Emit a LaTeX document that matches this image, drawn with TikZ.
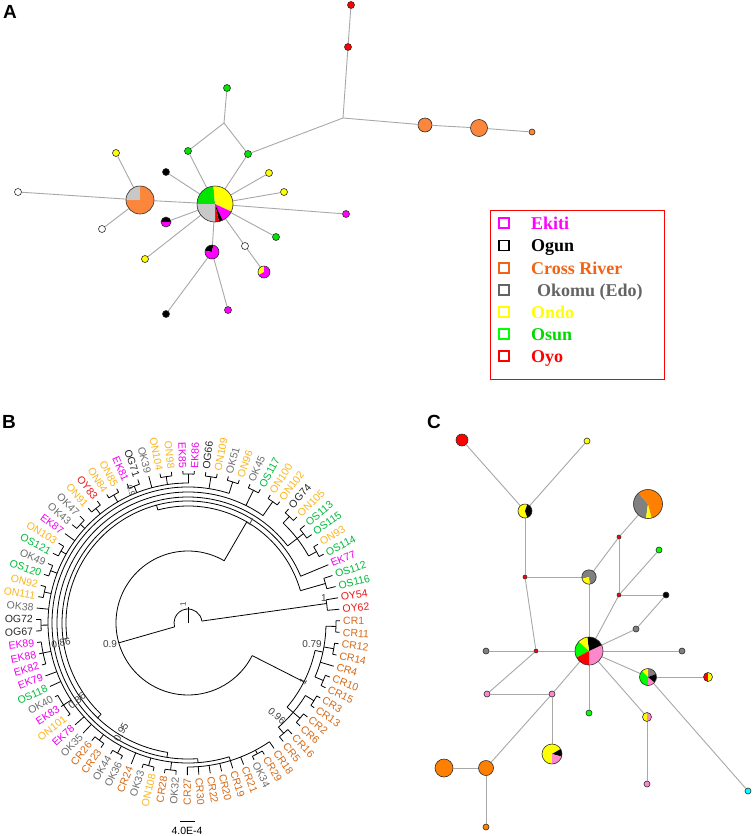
\documentclass[tikz,border=0pt]{standalone}
\usepackage{fontspec}
\setmainfont{Liberation Serif}
\newfontfamily\arialf{Liberation Sans}
\definecolor{eki}{RGB}{255,0,255}
\definecolor{oyoR}{RGB}{255,0,0}
\definecolor{orA}{RGB}{250,135,60}
\definecolor{grA}{RGB}{200,200,200}
\definecolor{grnA}{RGB}{0,230,0}
\definecolor{yel}{RGB}{255,255,0}
\definecolor{orC}{RGB}{255,128,0}
\definecolor{grC}{RGB}{128,128,128}
\definecolor{pkC}{RGB}{255,136,204}
\definecolor{grnC}{RGB}{0,255,0}
\definecolor{cyC}{RGB}{0,255,255}
\definecolor{edgec}{RGB}{168,168,168}
\definecolor{bd}{RGB}{45,45,45}
\definecolor{tON}{RGB}{250,182,30}
\definecolor{tOK}{RGB}{110,110,110}
\definecolor{tOG}{RGB}{40,40,40}
\definecolor{tEK}{RGB}{240,0,240}
\definecolor{tOS}{RGB}{0,185,60}
\definecolor{tOY}{RGB}{240,20,20}
\definecolor{tCR}{RGB}{215,105,20}
\definecolor{legCR}{RGB}{240,100,20}
\definecolor{legOK}{RGB}{100,100,100}
\tikzset{
 hap/.style={circle, inner sep=0pt, minimum size=#1, draw=bd, line width=0.6pt},
 hapc/.style={circle, inner sep=0pt, minimum size=#1},
 link/.style={draw=edgec, line width=0.9pt},
 tree/.style={line width=0.8pt, black},
 plabel/.style={font=\arialf\bfseries\fontsize{19}{22}\selectfont, inner sep=0pt},
 tlab/.style={font=\arialf\fontsize{10.5}{12}\selectfont, inner sep=0pt},
 boot/.style={font=\arialf\fontsize{10}{12}\selectfont, text=black!75, inner sep=0pt},
 legtext/.style={font=\bfseries\fontsize{18}{21}\selectfont, anchor=base west, inner sep=0pt},
 legsq/.style={draw, line width=1.3pt, minimum size=10pt, inner sep=0pt},
}
\newcommand\pwedge[5]{\fill[#5] (#1.center) -- ++(#3:#2) arc[start angle=#3, end angle=#4, radius=#2] -- cycle;}
\newcommand\pbord[2]{\draw[bd, line width=0.6pt] (#1.center) circle[radius=#2];}
\newcommand\trad[3]{\pgfmathsetmacro\tA{5.2+(#1-1)*4.337}\draw[tree] (\tA:#2pt) -- (\tA:#3pt);}
\newcommand\tarc[3]{\pgfmathsetmacro\tA{5.2+(#1-1)*4.337}\pgfmathsetmacro\tB{5.2+(#2-1)*4.337}\draw[tree] (\tA:#3pt) arc[start angle=\tA, end angle=\tB, radius=#3pt];}
\newcommand\tcl[5]{\trad{#5}{#4}{#3}\tarc{#1}{#2}{#3}\foreach \kk in {#1,...,#2}{\trad{\kk}{#3}{152}}}
\newcommand\ttip[2]{\trad{#1}{#2}{152}}
\begin{document}
\begin{tikzpicture}[x=1pt,y=-1pt]
\useasboundingbox (0,0) rectangle (754,836);
\fill[white] (0,0) rectangle (754,836);

%================ Panel A =================
\node[plabel] (pA) at (10,12) {A};
\node[hap=7pt, fill=oyoR] (a_r1) at (351,5) {};
\node[hap=7pt, fill=oyoR] (a_r2) at (348,47) {};
\coordinate (a_j1) at (343,118);
\node[hap=14pt, fill=orA] (a_o1) at (425,125) {};
\node[hap=17pt, fill=orA] (a_o2) at (479,128) {};
\node[hap=6pt, fill=orA] (a_o3) at (532,132) {};
\node[hap=7pt, fill=grnA] (a_gt) at (227,88) {};
\coordinate (a_j2) at (224,123);
\node[hap=7pt, fill=grnA] (a_g1) at (188,151) {};
\node[hap=7pt, fill=grnA] (a_g2) at (248,154) {};
\node[hapc=36pt] (a_c) at (215,204) {};
\node[hapc=28pt] (a_og) at (140,200) {};
\node[hap=7pt, fill=yel] (a_y1) at (116,153) {};
\node[hap=7pt, fill=white] (a_w1) at (18,192) {};
\node[hap=7pt, fill=white] (a_w2) at (102,229) {};
\node[hap=7pt, fill=black] (a_b1) at (166,172) {};
\node[hapc=10pt] (a_bp) at (166,222) {};
\node[hap=7pt, fill=yel] (a_y2) at (145,259) {};
\node[hapc=14pt] (a_pb) at (212,252) {};
\node[hap=7pt, fill=black] (a_b2) at (166,314) {};
\node[hap=7pt, fill=eki] (a_p1) at (228,310) {};
\node[hap=7pt, fill=white] (a_w3) at (245,246) {};
\node[hapc=12pt] (a_yp) at (264,272) {};
\node[hap=7pt, fill=grnA] (a_g3) at (276,237) {};
\node[hap=7pt, fill=eki] (a_p2) at (346,214) {};
\node[hap=7pt, fill=yel] (a_y3) at (284,192) {};
\node[hap=7pt, fill=yel] (a_y4) at (269,173) {};

\draw[link] (a_r1) -- (a_r2);
\draw[link] (a_r2) -- (a_j1);
\draw[link] (a_j1) -- (a_o1);
\draw[link] (a_o1) -- (a_o2);
\draw[link] (a_o2) -- (a_o3);
\draw[link] (a_j1) -- (a_g2);
\draw[link] (a_gt) -- (a_j2);
\draw[link] (a_j2) -- (a_g1);
\draw[link] (a_j2) -- (a_g2);
\draw[link] (a_g1) -- (a_c);
\draw[link] (a_g2) -- (a_c);
\draw[link] (a_y1) -- (a_og);
\draw[link] (a_w1) -- (a_og);
\draw[link] (a_w2) -- (a_og);
\draw[link] (a_og) -- (a_c);
\draw[link] (a_b1) -- (a_c);
\draw[link] (a_bp) -- (a_c);
\draw[link] (a_y2) -- (a_c);
\draw[link] (a_pb) -- (a_c);
\draw[link] (a_pb) -- (a_b2);
\draw[link] (a_pb) -- (a_p1);
\draw[link] (a_c) -- (a_w3);
\draw[link] (a_w3) -- (a_yp);
\draw[link] (a_c) -- (a_g3);
\draw[link] (a_c) -- (a_p2);
\draw[link] (a_c) -- (a_y3);
\draw[link] (a_c) -- (a_y4);

\pwedge{a_c}{18pt}{95}{180}{grnA}
\pwedge{a_c}{18pt}{-25}{95}{yel}
\pwedge{a_c}{18pt}{-65}{-25}{eki}
\pwedge{a_c}{18pt}{-77}{-65}{black}
\pwedge{a_c}{18pt}{-90}{-77}{oyoR}
\pwedge{a_c}{18pt}{180}{270}{grA}
\pbord{a_c}{18pt}
\pwedge{a_og}{14pt}{90}{180}{grA}
\pwedge{a_og}{14pt}{180}{450}{orA}
\pbord{a_og}{14pt}
\pwedge{a_bp}{5pt}{0}{180}{black}
\pwedge{a_bp}{5pt}{180}{360}{eki}
\pbord{a_bp}{5pt}
\pwedge{a_pb}{7pt}{80}{170}{black}
\pwedge{a_pb}{7pt}{170}{440}{eki}
\pbord{a_pb}{7pt}
\pwedge{a_yp}{6pt}{90}{210}{yel}
\pwedge{a_yp}{6pt}{210}{450}{eki}
\pbord{a_yp}{6pt}

%================ Legend =================
\node[draw=red, line width=1pt, minimum width=174pt, minimum height=169pt, inner sep=0pt, anchor=north west] (leg) at (490,210) {};
\node[legsq, draw=eki] (s1) at (504,223) {};
\node[legsq, draw=black] (s2) at (504,245.5) {};
\node[legsq, draw=legCR] (s3) at (504,268) {};
\node[legsq, draw=legOK] (s4) at (504,290) {};
\node[legsq, draw=yel] (s5) at (504,312) {};
\node[legsq, draw=grnC] (s6) at (504,334) {};
\node[legsq, draw=red] (s7) at (504,356) {};
\node[legtext, text=eki] (l1) at (531,229) {Ekiti};
\node[legtext, text=black] (l2) at (531,251.5) {Ogun};
\node[legtext, text=legCR] (l3) at (531,274) {Cross River};
\node[legtext, text=legOK] (l4) at (537,296) {Okomu (Edo)};
\node[legtext, text=yel] (l5) at (531,318) {Ondo};
\node[legtext, text=grnC!85!black] (l6) at (531,340) {Osun};
\node[legtext, text=red] (l7) at (531,362) {Oyo};

%================ Panel B =================
\node[plabel] (pB) at (9,422) {B};
\begin{scope}[shift={(188,623)}]
\draw[tree] (0pt,0pt) -- (90:16pt);
\draw[tree] (8:14pt) arc[start angle=8, end angle=196, radius=14pt];
\draw[tree] (8:14pt) -- (8:140pt);
\tarc{1}{2}{140}
\ttip{1}{140}
\ttip{2}{140}
\draw[tree] (196:14pt) -- (196:72pt);
\tarc{13.6}{76.6}{72}
% upper clade
\trad{13.6}{72}{117}
\tarc{3.5}{24}{117}
\tcl{3}{4}{143}{117}{3.5}
\trad{24}{117}{122}
\tarc{5}{43}{122}
\ttip{5}{122}
\trad{43}{122}{126}
\tarc{8.5}{52}{126}
\trad{8.5}{126}{138}
\tarc{6.5}{10.5}{138}
\tcl{6}{7}{147}{138}{6.5}
\tcl{8}{9}{146}{138}{8.5}
\tcl{10}{11}{147}{138}{10.5}
\trad{52}{126}{131}
\tarc{12.5}{60}{131}
\tcl{12}{13}{148}{131}{12.5}
\tcl{14}{15}{148}{131}{14.5}
\trad{60}{131}{136}
\tarc{16.5}{63}{136}
\tcl{16}{17}{148}{136}{16.5}
\tcl{18}{19}{148}{136}{18.5}
\trad{63}{136}{140}
\tarc{20.5}{66}{140}
\tcl{20}{21}{149}{140}{20.5}
\tcl{22}{23}{148}{140}{22.5}
\ttip{24}{140}
\tcl{25}{26}{147}{140}{25.5}
\tcl{27}{28}{148}{140}{27.5}
\tcl{29}{30}{147}{140}{29.5}
\tcl{31}{32}{146}{140}{31.5}
\ttip{33}{140}
\tcl{34}{35}{146}{140}{34.5}
\tcl{36}{37}{147}{140}{36.5}
\tcl{38}{39}{147}{140}{38.5}
\ttip{40}{140}
\tcl{41}{42}{147}{140}{41.5}
\tcl{43}{45}{148}{140}{44}
\ttip{46}{140}
\ttip{47}{140}
\tcl{48}{50}{149}{140}{49}
\ttip{51}{140}
\ttip{52}{140}
\tcl{53}{54}{147}{140}{53.5}
\tcl{55}{56}{148}{140}{55.5}
\ttip{57}{140}
\tcl{58}{59}{148}{140}{58.5}
\tcl{60}{61}{148}{140}{60.5}
\trad{66}{140}{144}
\tarc{62}{70}{144}
\foreach \kk in {62,...,67}{\ttip{\kk}{144}}
\tcl{68}{69}{148}{144}{68.5}
\ttip{70}{144}
% CR clade
\trad{76.6}{72}{130}
\tarc{73.5}{80}{130}
\trad{73.5}{130}{138}
\tarc{71.5}{75.5}{138}
\tcl{71}{72}{146}{138}{71.5}
\tcl{73}{74}{147}{138}{73.5}
\tcl{75}{76}{148}{138}{75.5}
\trad{80}{130}{138}
\tarc{77.5}{82.5}{138}
\tcl{77}{78}{147}{138}{77.5}
\ttip{79}{138}
\tcl{80}{81}{148}{138}{80.5}
\tcl{82}{83}{148}{138}{82.5}
% tip labels
\foreach \nm/\cl [count=\i] in {OY62/tOY, OY54/tOY, OS116/tOS, OS112/tOS, EK77/tEK, OS114/tOS, ON93/tON, OS115/tOS, OS113/tOS, ON105/tON, OG74/tOG, ON102/tON, ON100/tON, OS117/tOS, OK45/tOK, ON96/tON, OK51/tOK, ON109/tON, OG66/tOG, EK86/tEK, EK85/tEK, ON98/tON, ON104/tON, OK39/tOK, OG71/tOG, EK81/tEK, ON85/tON, ON84/tON, OY83/tOY, ON91/tON, OK47/tOK, OK43/tOK, EK87/tEK, ON103/tON, OS121/tOS, OK49/tOK, OS120/tOS, ON92/tON, ON111/tON, OK38/tOK, OG72/tOG, OG67/tOG, EK89/tEK, EK88/tEK, EK82/tEK, EK79/tEK, OS118/tOS, OK40/tOK, EK83/tEK, ON101/tON, EK78/tEK, OK35/tOK, CR26/tCR, CR23/tCR, OK44/tOK, OK36/tOK, CR24/tCR, OK33/tOK, ON108/tON, CR28/tCR, OK32/tOK, CR27/tCR, CR30/tCR, CR22/tCR, CR20/tCR, CR19/tCR, CR21/tCR, OK34/tOK, CR29/tCR, CR18/tCR, CR5/tCR, CR16/tCR, CR6/tCR, CR2/tCR, CR13/tCR, CR3/tCR, CR15/tCR, CR10/tCR, CR4/tCR, CR14/tCR, CR12/tCR, CR11/tCR, CR1/tCR} {
  \pgfmathsetmacro\ta{5.2+(\i-1)*4.337}
  \pgfmathsetmacro\tb{\ta+180}
  \pgfmathtruncatemacro\side{cos(\ta)>=0}
  \ifnum\side=1
    \node[tlab, text=\cl, anchor=west, rotate=\ta] (t\i) at (\ta:155pt) {\nm};
  \else
    \node[tlab, text=\cl, anchor=east, rotate=\tb] (t\i) at (\ta:155pt) {\nm};
  \fi
}
\end{scope}
% support values
\node[boot, rotate=90, font=\arialf\fontsize{8}{9}\selectfont] (b1) at (183,604) {1};
\node[boot] (b2) at (110,644) {0.9};
\node[boot, rotate=-30] (b3) at (251,522) {1};
\node[boot] (b4) at (324,598) {1};
\node[boot, rotate=60] (b5) at (303,681) {1};
\node[boot] (b6) at (312,644) {0.79};
\node[boot, rotate=-40] (b7) at (277,716) {0.96};
\node[boot, rotate=60] (b8) at (121,732) {0.95};
\node[boot, rotate=10] (b9) at (61,643) {0.86};
\node[boot, rotate=40] (b10) at (77,701) {0.86};
\node[boot, rotate=-70, font=\arialf\fontsize{8}{9}\selectfont] (b11) at (131,491) {0.9};
% scale bar
\coordinate (sb1) at (180,821);
\coordinate (sb2) at (195,821);
\draw[tree] (sb1) -- (sb2);
\node[tlab] (sbt) at (187,831) {4.0E-4};

%================ Panel C =================
\node[plabel] (pC) at (434,422) {C};
\node[hap=12pt, fill=oyoR] (c_r) at (462,440) {};
\node[hap=6pt, fill=yel] (c_y) at (587,441) {};
\node[hapc=14pt] (c_yb) at (525,511) {};
\node[hapc=29pt] (c_og) at (648,504) {};
\node[hap=4pt, fill=oyoR] (c_j3) at (619,537) {};
\node[hap=6pt, fill=grnC] (c_g1) at (659,550) {};
\node[hap=4pt, fill=oyoR] (c_j1) at (525,577) {};
\node[hapc=14.5pt] (c_gy) at (589,577) {};
\node[hap=4pt, fill=oyoR] (c_j2) at (619,595) {};
\node[hap=6pt, fill=black] (c_b) at (666,595) {};
\node[hap=6pt, fill=grC] (c_k1) at (636,629) {};
\node[hap=4pt, fill=oyoR] (c_jl) at (536,651) {};
\node[hap=6pt, fill=grC] (c_k2) at (486,651) {};
\node[hapc=28pt] (c_c) at (589,651) {};
\node[hap=6pt, fill=grC] (c_k3) at (682,651) {};
\node[hapc=17pt] (c_pie) at (648,677) {};
\node[hapc=9pt] (c_ry) at (708,677) {};
\node[hap=6pt, fill=pkC] (c_p1) at (487,694) {};
\node[hap=6pt, fill=pkC] (c_p2) at (552,694) {};
\node[hap=6pt, fill=grnC] (c_g2) at (589,713) {};
\node[hapc=9pt] (c_yp) at (647,717) {};
\node[hapc=20pt] (c_yl) at (552,754) {};
\node[hap=18pt, fill=orC] (c_o1) at (444,768) {};
\node[hap=15pt, fill=orC] (c_o2) at (486,768) {};
\node[hap=6pt, fill=pkC] (c_p3) at (647,784) {};
\node[hap=6pt, fill=cyC] (c_cy) at (748,791) {};
\node[hap=6pt, fill=orC] (c_o3) at (486,827) {};

\draw[link] (c_r) -- (c_yb);
\draw[link] (c_y) -- (c_yb);
\draw[link] (c_yb) -- (c_j1);
\draw[link] (c_j1) -- (c_gy);
\draw[link] (c_j1) -- (c_jl);
\draw[link] (c_gy) -- (c_j3);
\draw[link] (c_j3) -- (c_og);
\draw[link] (c_gy) -- (c_c);
\draw[link] (c_j3) -- (c_j2);
\draw[link] (c_j2) -- (c_g1);
\draw[link] (c_j2) -- (c_b);
\draw[link] (c_j2) -- (c_c);
\draw[link] (c_b) -- (c_k1);
\draw[link] (c_k1) -- (c_c);
\draw[link] (c_jl) -- (c_k2);
\draw[link] (c_jl) -- (c_c);
\draw[link] (c_c) -- (c_k3);
\draw[link] (c_jl) -- (c_p1);
\draw[link] (c_p1) -- (c_p2);
\draw[link] (c_p2) -- (c_c);
\draw[link] (c_p2) -- (c_yl);
\draw[link] (c_p2) -- (c_o2);
\draw[link] (c_o2) -- (c_o1);
\draw[link] (c_o2) -- (c_o3);
\draw[link] (c_c) -- (c_g2);
\draw[link] (c_c) -- (c_pie);
\draw[link] (c_pie) -- (c_ry);
\draw[link] (c_pie) -- (c_cy);
\draw[link] (c_c) -- (c_yp);
\draw[link] (c_yp) -- (c_p3);

\pwedge{c_yb}{7pt}{70}{290}{yel}
\pwedge{c_yb}{7pt}{-70}{70}{black}
\pbord{c_yb}{7pt}
\pwedge{c_og}{14.5pt}{130}{262}{grC}
\pwedge{c_og}{14.5pt}{262}{285}{yel}
\pwedge{c_og}{14.5pt}{-75}{130}{orC}
\pbord{c_og}{14.5pt}
\pwedge{c_gy}{7.2pt}{275}{555}{grC}
\pwedge{c_gy}{7.2pt}{195}{275}{yel}
\pbord{c_gy}{7.2pt}
\pwedge{c_c}{14pt}{-90}{25}{pkC}
\pwedge{c_c}{14pt}{25}{97}{black}
\pwedge{c_c}{14pt}{97}{138}{yel}
\pwedge{c_c}{14pt}{138}{208}{grnC}
\pwedge{c_c}{14pt}{208}{270}{oyoR}
\pbord{c_c}{14pt}
\pwedge{c_pie}{8.5pt}{20}{90}{grC}
\pwedge{c_pie}{8.5pt}{90}{135}{yel}
\pwedge{c_pie}{8.5pt}{135}{270}{grnC}
\pwedge{c_pie}{8.5pt}{270}{320}{pkC}
\pwedge{c_pie}{8.5pt}{320}{380}{black}
\pbord{c_pie}{8.5pt}
\pwedge{c_ry}{4.5pt}{90}{270}{oyoR}
\pwedge{c_ry}{4.5pt}{-90}{90}{yel}
\pbord{c_ry}{4.5pt}
\pwedge{c_yp}{4.5pt}{90}{270}{yel}
\pwedge{c_yp}{4.5pt}{-90}{90}{pkC}
\pbord{c_yp}{4.5pt}
\pwedge{c_yl}{10pt}{30}{270}{yel}
\pwedge{c_yl}{10pt}{-15}{30}{black}
\pwedge{c_yl}{10pt}{-90}{-15}{pkC}
\pbord{c_yl}{10pt}
\end{tikzpicture}
\end{document}
